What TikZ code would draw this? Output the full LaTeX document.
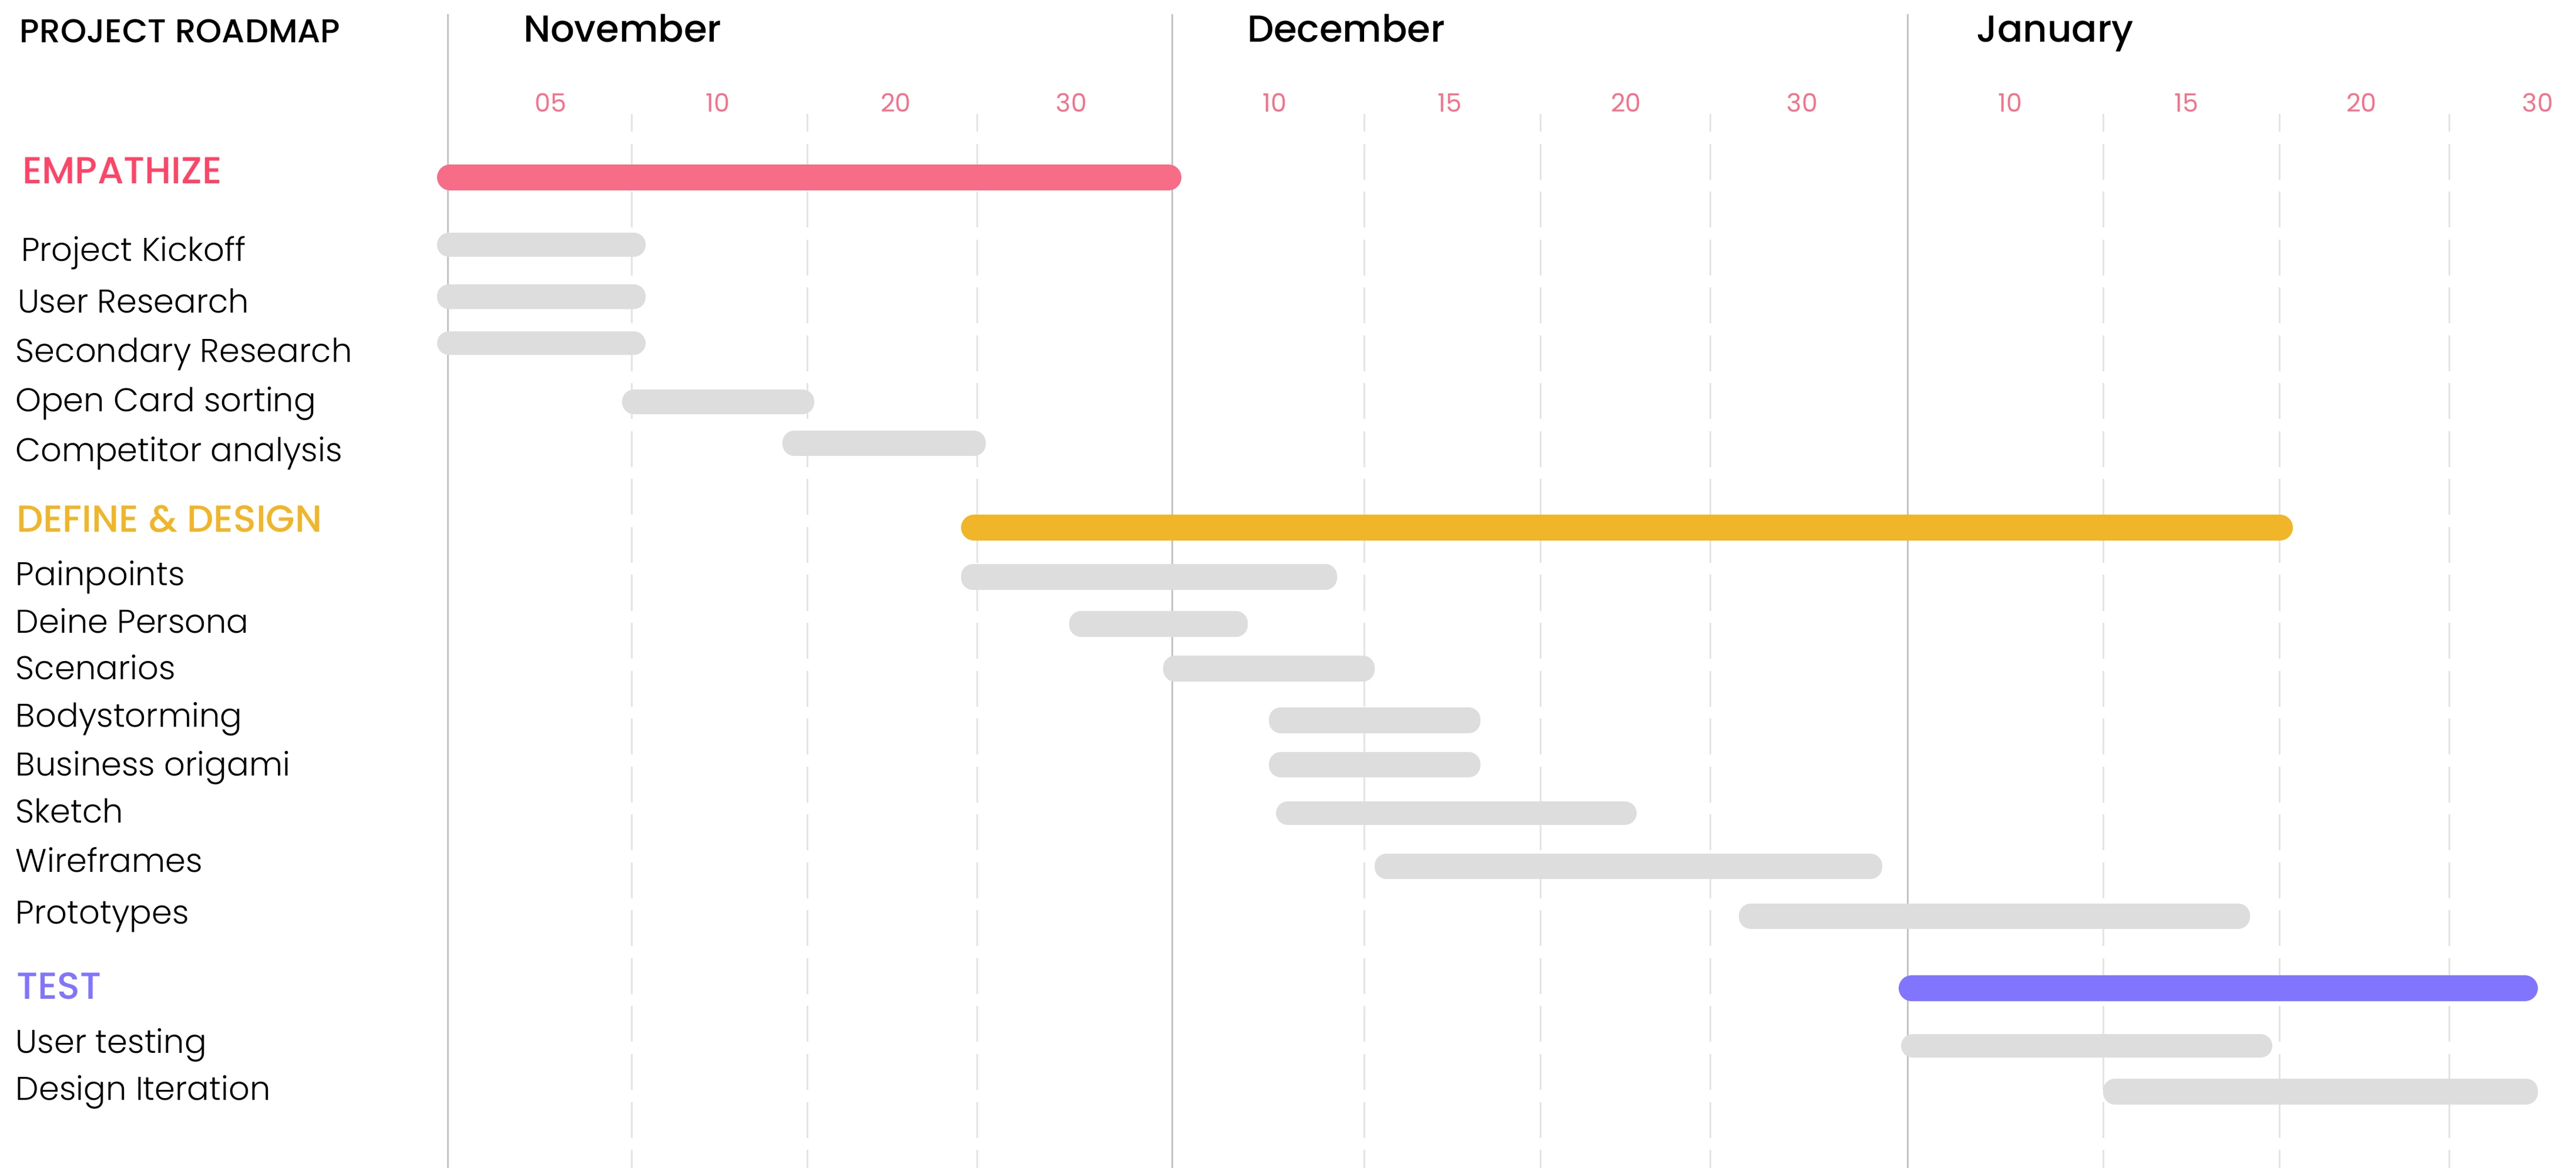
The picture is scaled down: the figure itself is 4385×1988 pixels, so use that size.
\documentclass[tikz,border=0pt]{standalone}
\usepackage{fontspec}
\setmainfont{Poppins}
\newfontfamily\popmedium{Poppins Medium}
\newfontfamily\poplight{Poppins Light}
\usepackage{tikz}

\definecolor{empathpink}{HTML}{F76C87}
\definecolor{empathtext}{HTML}{FF4567}
\definecolor{daypink}{HTML}{F7708A}
\definecolor{defineyellow}{HTML}{F0B528}
\definecolor{testpurple}{HTML}{8175FE}
\definecolor{barfill}{HTML}{DDDDDD}
\definecolor{monthgray}{HTML}{C4C4C4}
\definecolor{daygray}{HTML}{E4E4E4}

\begin{document}
\begin{tikzpicture}
[x=0.01cm, y=-0.01cm,
% STYLES
every node/.style={inner sep=0pt, outer sep=0pt},
% The header style is used for the chart title and the months
header/.style={anchor=base west, font=\popmedium\fontsize{16pt}{18pt}\selectfont},
month/.style={anchor=base west, font=\popmedium\fontsize{18.2pt}{20pt}\selectfont},
day/.style={anchor=base, text=daypink, font=\fontsize{12.2pt}{14pt}\selectfont},
% The phase style is used to draw the phases' name, the task style for the tasks
phase/.style={anchor=base west, font=\popmedium\fontsize{18.2pt}{20pt}\selectfont},
task/.style={anchor=base west, font=\poplight\fontsize{15.9pt}{18pt}\selectfont},
monthline/.style={draw=monthgray, line width=0.03cm},
dayline/.style={draw=daygray, line width=0.03cm, dash pattern=on 0.61cm off 0.205cm, dash phase=0.31cm},
phasebar/.style={rounded corners=2.2mm},
taskbar/.style={fill=barfill, rounded corners=2mm}]

\useasboundingbox (0,0) rectangle (4385,1988);

% Draw grid
\path[dayline]
(1075,194) -- (1075,1988)
(1374,194) -- (1374,1988)
(1663,194) -- (1663,1988)
(2322,194) -- (2322,1988)
(2622,194) -- (2622,1988)
(2911,194) -- (2911,1988)
(3580,194) -- (3580,1988)
(3880,194) -- (3880,1988)
(4169,194) -- (4169,1988);
\path[monthline]
(762,24) -- (762,1988)
(1995,24) -- (1995,1988)
(3247,24) -- (3247,1988);

% Header
\node [header] (roadmap) at (34,73) {PROJECT ROADMAP};
\node [month] (nov) at (891,72) {November};
\node [month] (dec) at (2123,72) {December};
\node [month] (jan) at (3364,72) {January};

\node [day] (nov05) at (937,191) {05};
\node [day] (nov10) at (1222,191) {10};
\node [day] (nov20) at (1525,191) {20};
\node [day] (nov30) at (1824,191) {30};
\node [day] (dec10) at (2170,191) {10};
\node [day] (dec15) at (2468,191) {15};
\node [day] (dec20) at (2768,191) {20};
\node [day] (dec30) at (3068,191) {30};
\node [day] (jan10) at (3422,191) {10};
\node [day] (jan15) at (3722,191) {15};
\node [day] (jan20) at (4020,191) {20};
\node [day] (jan30) at (4320,191) {30};

%%%%%%%%%%%%%%%
% Change data from here

% empathize
\node [phase, text=empathtext] (empathize) at (38,312) {EMPATHIZE};
\fill [phasebar, empathpink] (744,280) rectangle (2011,324);

\node [task] (kickoff) at (36,444) {Project Kickoff};
\fill [taskbar] (744,396) rectangle (1099,437);
\node [task] (userresearch) at (30,532) {User Research};
\fill [taskbar] (744,484) rectangle (1099,526);
\node [task] (secondary) at (27,616) {Secondary Research};
\fill [taskbar] (744,564) rectangle (1099,604);
\node [task] (cardsorting) at (26,700) {Open Card sorting};
\fill [taskbar] (1059,663) rectangle (1386,705);
\node [task] (competitor) at (26,785) {Competitor analysis};
\fill [taskbar] (1332,733) rectangle (1678,776);

% define & design
\node [phase, text=defineyellow] (define) at (28,905) {DEFINE \& DESIGN};
\fill [phasebar, defineyellow] (1636,876) rectangle (3903,920);

\node [task] (painpoints) at (27,996) {Painpoints};
\fill [taskbar] (1636,960) rectangle (2276,1004);
\node [task] (persona) at (27,1077) {Deine Persona};
\fill [taskbar] (1820,1040) rectangle (2124,1084);
\node [task] (scenarios) at (27,1156) {Scenarios};
\fill [taskbar] (1980,1116) rectangle (2340,1160);
\node [task] (bodystorming) at (27,1237) {Bodystorming};
\fill [taskbar] (2160,1204) rectangle (2520,1248);
\node [task] (origami) at (27,1320) {Business origami};
\fill [taskbar] (2160,1280) rectangle (2520,1323);
\node [task] (sketch) at (27,1400) {Sketch};
\fill [taskbar] (2172,1364) rectangle (2786,1404);
\node [task] (wireframes) at (27,1484) {Wireframes};
\fill [taskbar] (2340,1453) rectangle (3204,1496);
\node [task] (prototypes) at (27,1572) {Prototypes};
\fill [taskbar] (2960,1538) rectangle (3830,1581);

% test
\node [phase, text=testpurple] (test) at (28,1700) {TEST};
\fill [phasebar, testpurple] (3232,1660) rectangle (4320,1704);

\node [task] (usertesting) at (27,1792) {User testing};
\fill [taskbar] (3236,1760) rectangle (3868,1800);
\node [task] (iteration) at (27,1872) {Design Iteration};
\fill [taskbar] (3580,1836) rectangle (4320,1880);

%%%%%%%%%%%%%%%%

\end{tikzpicture}
\end{document}
